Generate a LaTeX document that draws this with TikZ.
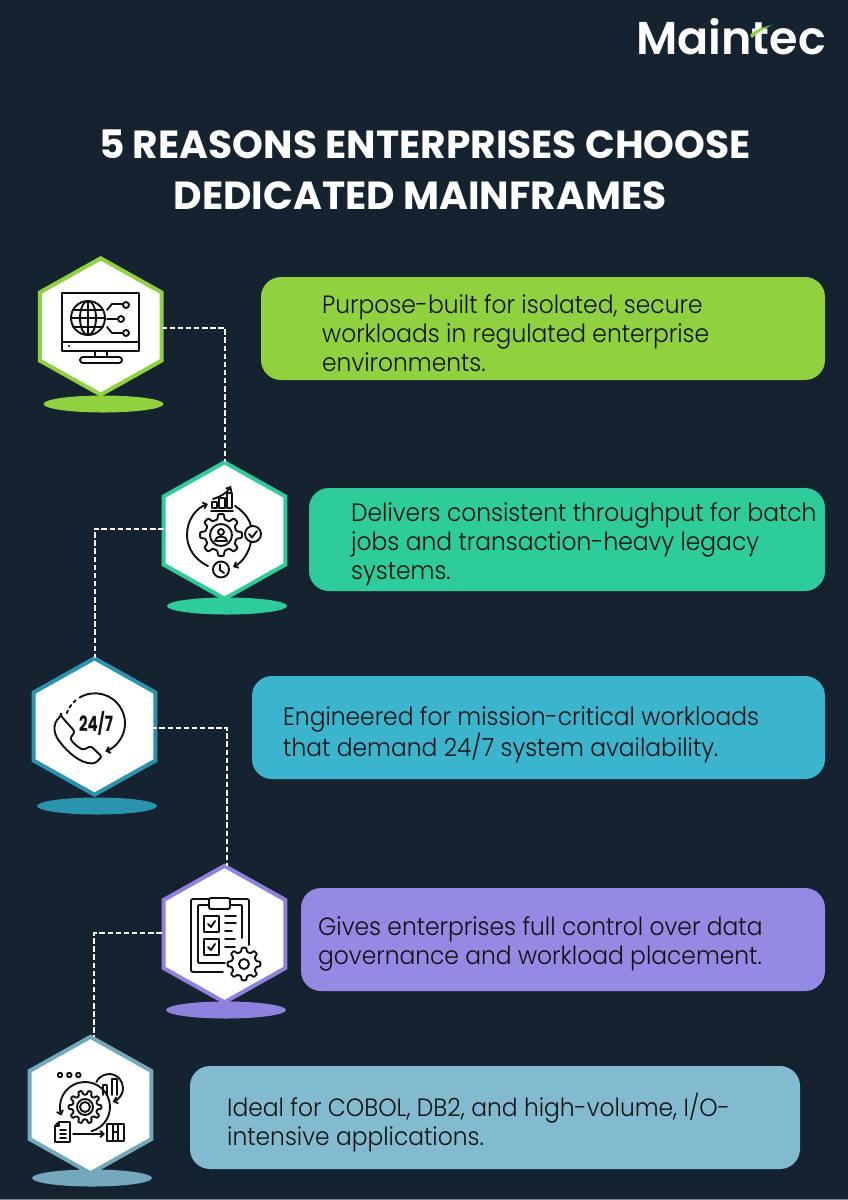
\documentclass[tikz,border=0pt]{standalone}
\usepackage{fontspec}
\setmainfont{Poppins}
\newfontfamily\bodyfont[FakeStretch=0.935]{Poppins Light}
\newfontfamily\titlefont{Poppins}[UprightFont=* Bold]
\newfontfamily\logofont{Poppins}[UprightFont=* SemiBold]
\usetikzlibrary{shapes.geometric,arrows.meta}
\definecolor{bg}{HTML}{14232F}
\definecolor{cGreen}{HTML}{8FD13F}
\definecolor{cTeal}{HTML}{2ECC9A}
\definecolor{cBlue}{HTML}{3BB4CE}
\definecolor{cBlueD}{HTML}{2A93AD}
\definecolor{cPurple}{HTML}{9489E3}
\definecolor{cPurpleD}{HTML}{8E82DE}
\definecolor{cSky}{HTML}{82BACF}
\definecolor{cSkyD}{HTML}{74A8BC}
\definecolor{ink}{HTML}{101010}
\definecolor{edge}{HTML}{7F8C94}
\tikzset{
 hexa/.style={regular polygon,regular polygon sides=6,shape border rotate=30,minimum size=136.4pt,inner sep=0pt,outer sep=0pt,xscale=1.03,fill=white,line width=4pt,draw=#1},
 disc/.style={ellipse,minimum width=120pt,minimum height=17pt,inner sep=0pt,fill=#1},
 card/.style={rounded corners=20pt,fill=#1},
 bodytxt/.style={anchor=west,align=left,inner sep=0pt,text=ink,font=\bodyfont\fontsize{25}{29}\selectfont},
 link/.style={draw=white,line width=2pt,dash pattern=on 5.5pt off 2.6pt},
 ic/.style={draw=ink,line width=1.9pt,line cap=round,line join=round},
 ict/.style={ic,-{Straight Barb[length=3.5pt,width=6.5pt]}},
 ttl/.style={text=white,font=\titlefont\fontsize{39.2}{51}\selectfont,align=center,inner sep=0pt},
}
\newcommand\gearicon[5]{% x y outer inner teeth
 \pgfmathsetmacro\gstep{360/#5}
 \draw[ic,fill=white,rounded corners=0.8pt] ({#1+#4*cos(-\gstep*0.30)},{#2+#4*sin(-\gstep*0.30)})
 \foreach \gi in {1,...,#5}{
  -- ({#1+#3*cos(\gi*\gstep-\gstep-\gstep*0.17)},{#2+#3*sin(\gi*\gstep-\gstep-\gstep*0.17)})
  -- ({#1+#3*cos(\gi*\gstep-\gstep+\gstep*0.17)},{#2+#3*sin(\gi*\gstep-\gstep+\gstep*0.17)})
  -- ({#1+#4*cos(\gi*\gstep-\gstep+\gstep*0.30)},{#2+#4*sin(\gi*\gstep-\gstep+\gstep*0.30)})
  -- ({#1+#4*cos(\gi*\gstep-\gstep*0.30)},{#2+#4*sin(\gi*\gstep-\gstep*0.30)})
 } -- cycle;
}
\begin{document}
\begin{tikzpicture}[x=1pt,y=-1pt]
\useasboundingbox (0,0) rectangle (848,1200);
\fill[bg] (0,0) rectangle (848,1200);
\fill[edge] (0,1199) rectangle (848,1200);
% logo
\node[inner sep=0pt,anchor=base west,text=white,font=\logofont\fontsize{46}{46}\selectfont] (logo) at (636,54) {Maintec};
\fill[cGreen] (750,35) .. controls (756,29) and (764,27) .. (772,25) .. controls (764,29) and (758,32) .. (752,38) -- cycle;
% title
\node[ttl] (title) at (425,170) {5 REASONS ENTERPRISES CHOOSE\\DEDICATED MAINFRAMES\hspace*{10pt}};
% cards
\path[card=cGreen] (261,277) rectangle (825,380);
\path[card=cTeal] (309,488) rectangle (825,591);
\path[card=cBlue] (252,676) rectangle (825,779);
\path[card=cPurple] (301,888) rectangle (825,991);
\path[card=cSky] (190,1066) rectangle (800,1169);
\node[bodytxt] (t1) at (322,333) {Purpose-built for isolated, secure\\workloads in regulated enterprise\\environments.};
\node[bodytxt] (t2) at (351,544) {Delivers consistent throughput for batch\\jobs and transaction-heavy legacy\\systems.};
\node[bodytxt] (t3) at (283,735) {Engineered for mission-critical workloads\\that demand 24/7 system availability.};
\node[bodytxt] (t4) at (318,944) {Gives enterprises full control over data\\governance and workload placement.};
\node[bodytxt] (t5) at (227,1122) {Ideal for COBOL, DB2, and high-volume, I/O-\\intensive applications.};
% discs
\node[disc=cGreen] (d1) at (103.5,404) {};
\node[disc=cTeal] (d2) at (227,606) {};
\node[disc=cBlueD] (d3) at (97,806) {};
\node[disc=cPurpleD] (d4) at (226,1010) {};
\node[disc=cSkyD] (d5) at (92,1178) {};
% hexagons
\node[hexa=cGreen] (h1) at (100.7,326.5) {};
\node[hexa=cTeal] (h2) at (224.5,530.5) {};
\node[hexa=cBlueD] (h3) at (94.5,726.5) {};
\node[hexa=cPurpleD] (h4) at (224.5,934) {};
\node[hexa=cSkyD] (h5) at (90.5,1105) {};
% connectors
\coordinate (b1) at (225,328);
\coordinate (b2) at (94.5,528.5);
\coordinate (b3) at (227,728);
\coordinate (b4) at (94,933);
\draw[link] (h1.east |- b1) -- (b1) -- (b1 |- h2.north);
\draw[link] (h2.west |- b2) -- (b2) -- (b2 |- h3.north);
\draw[link] ([xshift=-4pt]h3.east |- b3) -- (b3) -- (b3 |- h4.north);
\draw[link] ([xshift=-2pt]h4.west |- b4) -- (b4) -- (b4 |- h5.north);
% icon 1 monitor
\begin{scope}
\draw[ic] (62,293) rectangle (139,351);
\draw[ic] (62,342) -- (139,342);
\fill[ink] (69,346) circle (1.2);
\draw[ic] (95,351) -- (95,357) (107,351) -- (107,357);
\draw[ic,rounded corners=3pt] (80,357) rectangle (122,363);
\draw[ic] (88,318) circle (17);
\draw[ic] (88,318) ellipse (8 and 17);
\draw[ic] (88,301) -- (88,335);
\draw[ic] (73,310) -- (103,310) (71,318) -- (105,318) (73,327) -- (103,327);
\draw[ic] (107,310) -- (112,304) -- (123,304) (107,319) -- (118,319) (107,327) -- (112,333) -- (123,333);
\draw[ic] (126,305) circle (3) (121,319) circle (3) (126,333) circle (3);
\end{scope}
% icon 2 gear/person
\begin{scope}
\draw[ic] (212,502) rectangle (217,508) (219,498) rectangle (225,508) (227,493) rectangle (232,508);
\draw[ic] (211,511) -- (233,511);
\draw[ict] (213,499) .. controls (220,497) and (227,493) .. (231,486);
\gearicon{221}{535}{21}{16}{8}
\draw[ic] (221,535) circle (11);
\draw[ic] (221,532) circle (3);
\draw[ic] (215,541) .. controls (215,535) and (227,535) .. (227,541) -- cycle;
\draw[ict] (208,566) .. controls (195,560) and (187,548) .. (187,535) .. controls (187,520) and (196,508) .. (208,504);
\draw[ic] (235,506) .. controls (243,511) and (249,518) .. (251,526);
\draw[ict] (251,542) .. controls (249,552) and (243,562) .. (233,567);
\draw[ic] (253,534) circle (8);
\draw[ic] (249,534) -- (252,537.5) -- (257,531);
\draw[ic] (221,569.5) circle (8);
\draw[ic] (220,564.5) -- (220,570) -- (224,573);
\end{scope}
% icon 3 phone
\begin{scope}
\draw[ic,dash pattern=on 3pt off 3.5pt] (95,723.3) ++(-130:30) arc[start angle=-130,end angle=-160,radius=30];
\draw[ict] (95,723.3) ++(-121:30) arc[start angle=-121,end angle=70,radius=30];
\node[inner sep=0pt,text=ink,xscale=.72,font=\fontsize{21}{21}\selectfont\bfseries] (t247) at (96,723) {24/7};
\draw[ic,rounded corners=2.5pt] (61,716) -- (75,731.7) -- (70,738.3) .. controls (74,744) and (78,747) .. (83.3,750) -- (90.7,746) -- (102,756.7) -- (95,763.3) .. controls (80,764) and (66,750) .. (60,742) .. controls (54,734) and (52,724) .. cycle;
\end{scope}
% icon 4 clipboard
\begin{scope}
\draw[ic,rounded corners=2pt] (249,945) -- (249,899) -- (191,899) -- (191,972) -- (223,972);
\draw[ic,rounded corners=1pt] (242,938) -- (242,905) -- (198,905) -- (198,963) -- (225,963);
\draw[ic,fill=white,rounded corners=2pt] (209,898) rectangle (230,909);
\draw[ic] (204,916) rectangle (219,932) (204,939) rectangle (219,955);
\draw[ic] (208,924) -- (211,927) -- (215,921) (208,947) -- (211,950) -- (215,944);
\draw[ic] (225,916) -- (236,916) (225,923) -- (236,923) (225,931) -- (232,931) (225,939) -- (235,939) (225,947) -- (235,947);
\gearicon{244}{964}{16.5}{12.5}{8}
\draw[ic] (244,964) circle (5);
\end{scope}
% icon 5 process
\begin{scope}
\draw[ic,rounded corners=1pt] (58,1073) rectangle (62,1077) (67.3,1073) rectangle (71.3,1077) (76.3,1073) rectangle (80.3,1077);
\draw[ic] (103,1095) -- (103,1085) -- (107,1085) -- (107,1095);
\draw[ic] (112,1095) -- (112,1079) -- (117,1079) -- (117,1095);
\draw[ict] (109,1088) ++(-155:14) arc[start angle=-155,end angle=75,radius=14];
\draw[ict] (85,1107) ++(75:25) arc[start angle=75,end angle=-200,radius=25];
\gearicon{85}{1107}{16.5}{12.5}{10}
\draw[ic] (85,1107) circle (8) (85,1107) circle (5);
\draw[ic] (55,1126) -- (59,1122) -- (70,1122) -- (70,1142) -- (55,1142) -- cycle (59,1122) -- (59,1126) -- (55,1126);
\draw[ic] (60,1130) -- (66,1130) (60,1134) -- (66,1134) (60,1138) -- (66,1138);
\draw[ict] (73,1134) -- (105,1134);
\draw[ic] (107,1124) rectangle (124,1141);
\draw[ic] (113,1124) -- (113,1141) (118,1124) -- (118,1141) (113,1132) -- (118,1132);
\end{scope}
\end{tikzpicture}
\end{document}
